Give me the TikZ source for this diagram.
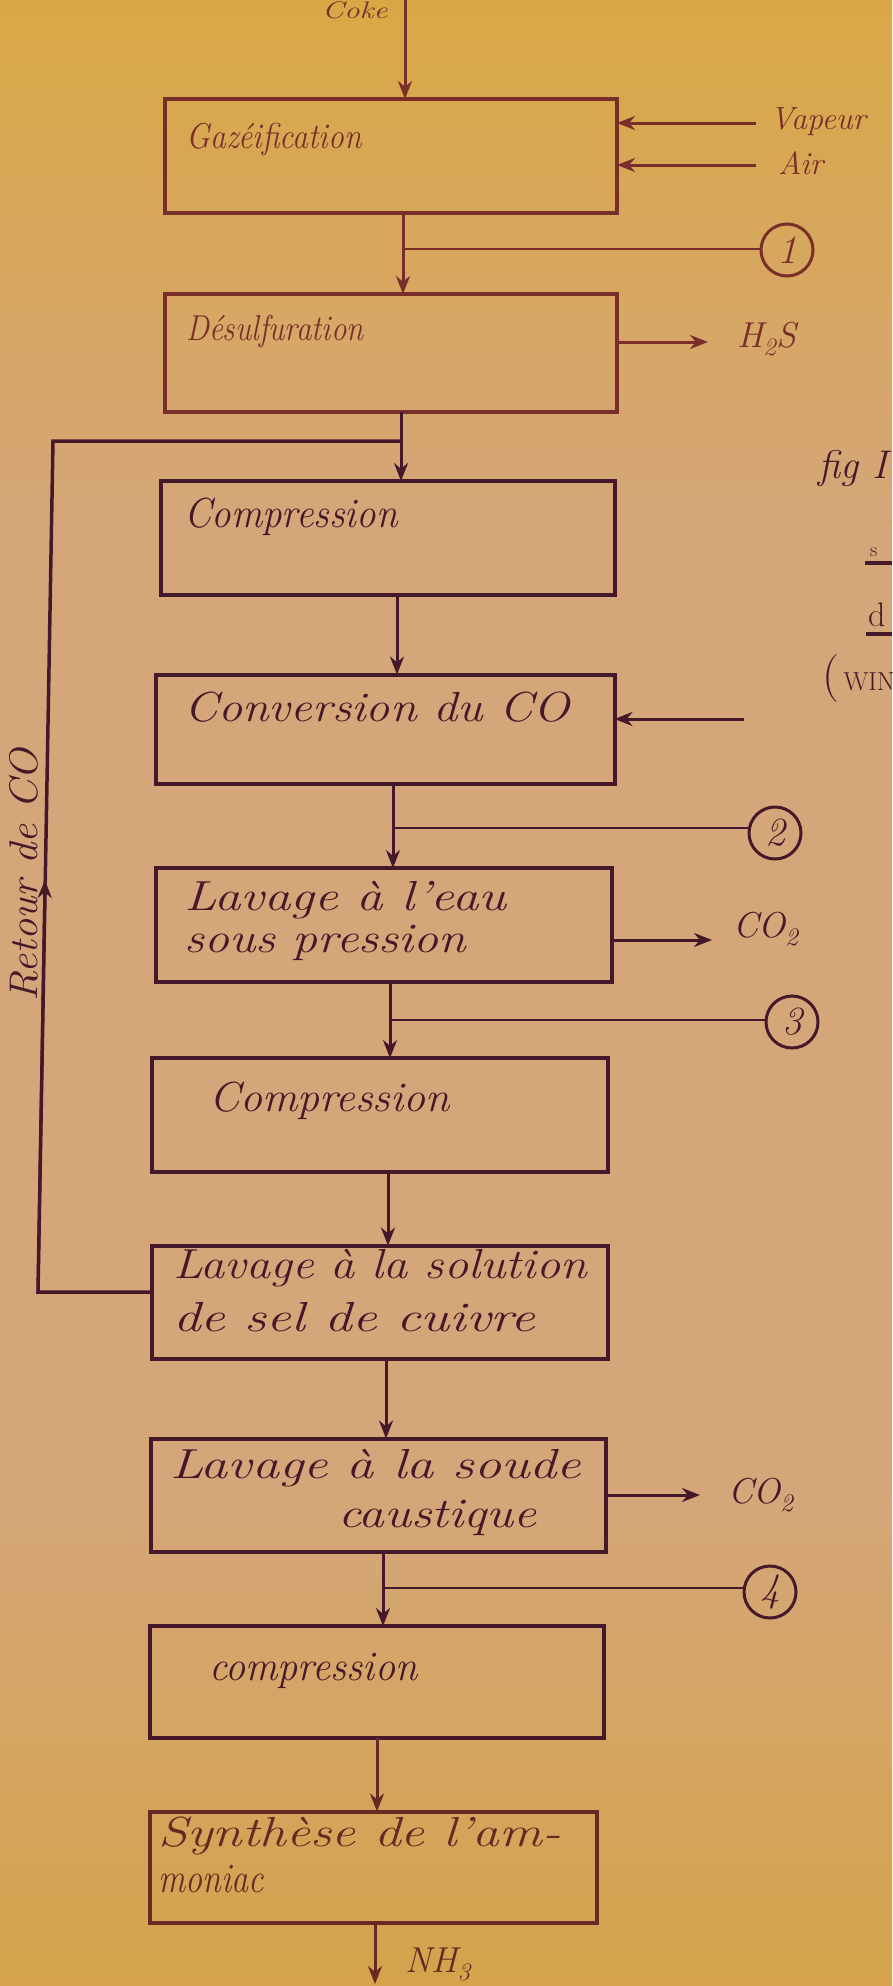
\documentclass[tikz,border=0pt]{standalone}
\usetikzlibrary{arrows.meta,calc}
\definecolor{ink}{HTML}{45192A}
\definecolor{inktop}{HTML}{7A2E2A}
\definecolor{inkbot}{HTML}{6A2824}
\definecolor{bgtop}{HTML}{D9A845}
\definecolor{bgmid}{HTML}{D5A679}
\definecolor{bgbot}{HTML}{D4A34B}
\newcommand\hsc[2]{\scalebox{#1}[1]{#2}}
\begin{document}
\begin{tikzpicture}[x=1pt,y=-1pt,
  box/.style={draw=ink, line width=4pt, inner sep=0pt, outer sep=0pt},
  txt/.style={text=ink, inner sep=0pt, font=\fontsize{42}{46}\selectfont\itshape},
  small/.style={text=ink, inner sep=0pt, font=\fontsize{36}{40}\selectfont\itshape},
  arr/.style={draw=ink, line width=3pt, -{Stealth[length=18pt,width=14pt]}},
  thin/.style={draw=ink, line width=2pt},
  circ/.style={circle, draw=ink, line width=3pt, minimum size=52pt, inner sep=0pt, text=ink, font=\fontsize{40}{40}\selectfont\itshape},
  line/.style={draw=ink, line width=3.5pt}
]
\useasboundingbox (0,0) rectangle (892,1986);
\shade[top color=bgtop, bottom color=bgmid] (0,0) rectangle (892,520);
\fill[bgmid] (0,519) rectangle (892,1500);
\shade[top color=bgmid, bottom color=bgbot] (0,1499) rectangle (892,1986);

% boxes
\node[box, draw=inktop, minimum width=452pt, minimum height=114pt] (b1) at (391,156) {};
\node[box, draw=inktop, minimum width=452pt, minimum height=118pt] (b2) at (391,353) {};
\node[box, minimum width=454pt, minimum height=114pt] (b3) at (388,538) {};
\node[box, minimum width=459pt, minimum height=109pt] (b4) at (385,729) {};
\node[box, minimum width=456pt, minimum height=114pt] (b5) at (384,925) {};
\node[box, minimum width=456pt, minimum height=114pt] (b6) at (380,1115) {};
\node[box, minimum width=456pt, minimum height=113pt] (b7) at (380,1302) {};
\node[box, minimum width=455pt, minimum height=113pt] (b8) at (378,1495) {};
\node[box, minimum width=454pt, minimum height=112pt] (b9) at (377,1682) {};
\node[box, draw=inkbot, minimum width=447pt, minimum height=111pt] (b10) at (373,1867) {};

% box texts
\node[txt, text=inktop, font=\fontsize{36}{40}\selectfont\itshape, anchor=base west] (t1) at (186,148) {\hsc{0.88}{Gazéification}};
\node[txt, text=inktop, font=\fontsize{36}{40}\selectfont\itshape, anchor=base west] (t2) at (186,340) {\hsc{0.86}{Désulfuration}};
\node[txt, anchor=base west] (t3) at (184,527) {\hsc{0.93}{Compression}};
\node[txt, anchor=base west] (t4) at (184,721) {\hsc{1.15}{Conversion du CO}};
\node[txt, anchor=base west] (t5a) at (184,910) {\hsc{1.26}{Lavage à l'eau}};
\node[txt, anchor=base west] (t5b) at (184,952) {\hsc{1.19}{sous pression}};
\node[txt, anchor=base west] (t6) at (209,1111) {\hsc{1.05}{Compression}};
\node[txt, anchor=base west] (t7a) at (173,1278) {\hsc{1.15}{Lavage à la solution}};
\node[txt, anchor=base west] (t7b) at (173,1331) {\hsc{1.31}{de sel de cuivre}};
\node[txt, anchor=base west] (t8a) at (170,1478) {\hsc{1.29}{Lavage à la soude}};
\node[txt, anchor=base west] (t8b) at (338,1527) {\hsc{1.22}{caustique}};
\node[txt, anchor=base west] (t9) at (209,1680) {\hsc{0.96}{compression}};
\node[txt, text=inkbot, anchor=base west] (t10a) at (158,1846) {\hsc{1.27}{Synthèse de l'am-}};
\node[txt, text=inkbot, anchor=base west] (t10b) at (158,1892) {\hsc{0.81}{moniac}};

% top input
\node[small, text=inktop, font=\fontsize{24}{26}\selectfont\itshape, anchor=base west] (coke) at (322,18) {\hsc{1.3}{Coke}};
\coordinate (k0) at (405,0);
\draw[arr, draw=inktop] (k0) -- (b1.north -| k0);

% Vapeur, Air
\coordinate (v0) at (756,123);
\coordinate (a0) at (756,165);
\draw[arr, draw=inktop] (v0) -- (v0 -| b1.east);
\draw[arr, draw=inktop] (a0) -- (a0 -| b1.east);
\node[small, text=inktop, font=\fontsize{32}{34}\selectfont\itshape, anchor=base west] (vap) at (770,129) {Vapeur};
\node[small, text=inktop, font=\fontsize{32}{34}\selectfont\itshape, anchor=base west] (air) at (778,174) {Air};

% trunk
\coordinate (x1) at (403,0);
\coordinate (x2) at (401,0);
\coordinate (x3) at (397,0);
\coordinate (x4) at (393,0);
\coordinate (x5) at (390,0);
\coordinate (x6) at (388,0);
\coordinate (x7) at (386,0);
\coordinate (x8) at (383,0);
\coordinate (x9) at (377,0);
\draw[arr, draw=inktop] (b1.south -| x1) -- (b2.north -| x1);
\draw[arr] (b2.south -| x2) -- (b3.north -| x2);
\draw[arr] (b3.south -| x3) -- (b4.north -| x3);
\draw[arr] (b4.south -| x4) -- (b5.north -| x4);
\draw[arr] (b5.south -| x5) -- (b6.north -| x5);
\draw[arr] (b6.south -| x6) -- (b7.north -| x6);
\draw[arr] (b7.south -| x7) -- (b8.north -| x7);
\draw[arr] (b8.south -| x8) -- (b9.north -| x8);
\draw[arr, draw=inkbot] (b9.south -| x9) -- (b10.north -| x9);
\coordinate (nh) at (375,1984);
\draw[arr, draw=inkbot] (b10.south -| nh) -- (nh);
\node[small, text=inkbot, anchor=base west] (nh3) at (405,1972) {NH\textsubscript{3}};

% sample points
\node[circ, draw=inktop, text=inktop] (c1) at (787,250) {1};
\node[circ] (c2) at (775,833) {2};
\node[circ] (c3) at (792,1022) {3};
\node[circ] (c4) at (770,1592) {4};
\coordinate (j1) at (403,249);
\coordinate (j2) at (393,828);
\coordinate (j3) at (390,1020);
\coordinate (j4) at (383,1588);
\draw[thin, draw=inktop] (j1) -- (j1 -| c1.west);
\draw[thin] (j2) -- (j2 -| c2.west);
\draw[thin] (j3) -- (j3 -| c3.west);
\draw[thin] (j4) -- (j4 -| c4.west);

% outputs
\coordinate (h0) at (708,342);
\draw[arr, draw=inktop] (h0 -| b2.east) -- (h0);
\node[small, text=inktop, anchor=base west] (h2s) at (737,347) {H\textsubscript{2}S};
\coordinate (o1) at (712,940);
\draw[arr] (o1 -| b5.east) -- (o1);
\node[small, anchor=base west] (co2a) at (733,937) {CO\textsubscript{2}};
\coordinate (o2) at (700,1495);
\draw[arr] (o2 -| b8.east) -- (o2);
\node[small, anchor=base west] (co2b) at (728,1503) {CO\textsubscript{2}};

% input to conversion
\coordinate (i4) at (744,719);
\draw[arr] (i4) -- (i4 -| b4.east);

% return of CO
\coordinate (r0) at (152,1292);
\coordinate (rl1) at (38,1292);
\coordinate (rl2) at (53,441);
\coordinate (rm) at (45,880);
\coordinate (j0) at (401,441);
\draw[line, line join=miter] (r0) -- (rl1) -- (rl2) -- (j0);
\draw[arr] (rl1) -- (rm);
\node[txt, rotate=90, font=\fontsize{40}{42}\selectfont\itshape] (ret) at (24,875) {\hsc{1.06}{Retour de CO}};

% side caption (cut at right edge)
\node[txt, anchor=base west, font=\fontsize{40}{42}\selectfont\itshape] (fig) at (818,478) {fig I};
\node[txt, anchor=base west, font=\fontsize{20}{20}\selectfont] (s1) at (870,556) {s};
\coordinate (u1) at (865,563);
\coordinate (u1e) at (892,563);
\draw[line] (u1) -- (u1e);
\node[txt, anchor=base west, font=\fontsize{34}{36}\selectfont] (d1) at (868,626) {d};
\coordinate (u2) at (866,634);
\coordinate (u2e) at (892,634);
\draw[line] (u2) -- (u2e);
\node[txt, anchor=base west, font=\fontsize{26}{28}\selectfont\upshape] (win) at (822,690) {{\fontsize{48}{48}\selectfont(}\,WIN};
\end{tikzpicture}
\end{document}
